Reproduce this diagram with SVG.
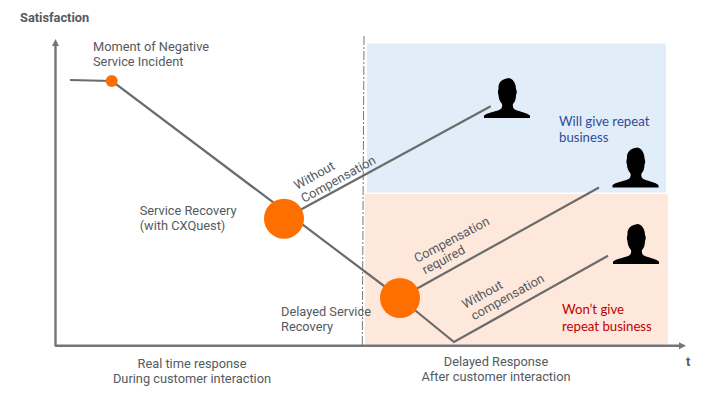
<svg xmlns="http://www.w3.org/2000/svg" width="711" height="402" viewBox="0 0 711 402">
  <style>
    .lbl { font-family: Roboto, "Liberation Sans", sans-serif; font-size: 12.8px; fill: #555a60; }
    .bold { font-weight: 700; }
    .mid { text-anchor: middle; }
    .note { font-family: Lato, "Open Sans", sans-serif; font-size: 13.2px; }
    .curve { fill: none; stroke: #6b6b6b; stroke-width: 2.2; }
    .axis { fill: none; stroke: #757575; stroke-width: 2.4; }
    .event { fill: #ff6f00; }
    .person { fill: #000; }
  </style>
  <defs>
    <symbol id="silhouette" viewBox="0 0 46 40" width="46" height="40" overflow="visible">
      <path d="M0 40 L0 37.5 C3 35 10 34 15 32 C18 31 18.5 28 18 26 C15.500 23 14.500 20 14.500 17 C13.500 15 14 12 14.500 11 C14 5 17 1 25 0 C29 1 32 5 32 11 C33 13 33 15 32 17 C32 21 31 24 29 26 C28.500 28 29 31 32 32 C37 34 43 35 46 37.500 L46 40 Z"/>
    </symbol>
  </defs>

  <rect width="711" height="402" fill="#fff"/>

  <g id="outcome-zones">
    <rect x="367" y="43.500" width="299" height="149" fill="#e1eef9"/>
    <rect x="365" y="194" width="303" height="150.500" fill="#fee8dc"/>
  </g>

  <g id="connectors">
    <path class="axis" d="M55.500 346 V44"/>
    <path d="M55.500 39 L59 46 H52 Z" fill="#757575"/>
    <path class="axis" d="M55 345.700 H680"/>
    <path d="M686 345.700 L679 342.200 V349.200 Z" fill="#757575"/>
    <path d="M364 36 L362.300 345" fill="none" stroke="#777" stroke-width="1" stroke-dasharray="9 2 2 2"/>
    <path class="curve" d="M70 80 L112 81 L400 298"/>
    <path class="curve" d="M284 218.700 L490.700 106.300"/>
    <path class="curve" d="M400 298 L599 187.500"/>
    <path class="curve" d="M400 298 L454 342 L608 255.700"/>
  </g>

  <g id="negative-incident">
    <circle class="event" cx="111.700" cy="81" r="6"/>
    <text class="lbl" x="93" y="51">Moment of Negative</text>
    <text class="lbl" x="93" y="66">Service Incident</text>
  </g>
  <g id="service-recovery">
    <circle class="event" cx="284" cy="218.700" r="20"/>
    <text class="lbl" x="139.700" y="215">Service Recovery</text>
    <text class="lbl" x="139.700" y="230">(with CXQuest)</text>
  </g>
  <g id="delayed-recovery">
    <circle class="event" cx="400" cy="298" r="20"/>
    <text class="lbl" x="281" y="316">Delayed Service</text>
    <text class="lbl" x="281" y="331">Recovery</text>
  </g>

  <g id="customer-top" class="person"><use href="#silhouette" x="484" y="78"/></g>
  <g id="customer-middle" class="person"><use href="#silhouette" x="612.500" y="147.500"/></g>
  <g id="customer-bottom" class="person"><use href="#silhouette" x="613" y="224"/></g>

  <g id="path-labels">
    <text class="lbl" transform="translate(297 190) rotate(-29)">Without</text>
    <text class="lbl" transform="translate(304 203) rotate(-29)">Compensation</text>
    <text class="lbl" transform="translate(417 263) rotate(-28)">Compensation</text>
    <text class="lbl" transform="translate(425 274.500) rotate(-28)">required</text>
    <text class="lbl" transform="translate(465 309) rotate(-29)">Without</text>
    <text class="lbl" transform="translate(474 320.500) rotate(-29)">compensation</text>
  </g>

  <g id="axis-labels">
    <text class="lbl bold" x="20" y="22">Satisfaction</text>
    <text class="lbl bold" x="686" y="366">t</text>
    <text class="lbl mid" x="192" y="367.700">Real time response</text>
    <text class="lbl mid" x="192" y="382.600">During customer interaction</text>
    <text class="lbl mid" x="496" y="365.700">Delayed Response</text>
    <text class="lbl mid" x="496" y="380.700">After customer interaction</text>
  </g>

  <g id="outcome-labels">
    <text class="note" x="559" y="125.700" fill="#2f4b9b">Will give repeat</text>
    <text class="note" x="559" y="142.400" fill="#2f4b9b">business</text>
    <text class="note" x="562" y="314" fill="#c00000">Won’t give</text>
    <text class="note" x="562" y="330.700" fill="#c00000">repeat business</text>
  </g>
</svg>
